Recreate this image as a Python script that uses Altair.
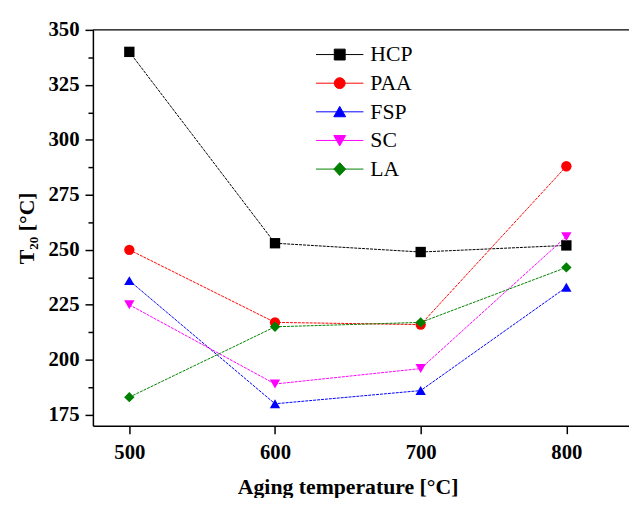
import altair as alt
import pandas as pd

temps = [500, 600, 700, 800]
series_names = ["HCP", "PAA", "FSP", "SC", "LA"]
hcp = [340, 253, 249, 252]
paa = [250, 217, 216, 288]
fsp = [236, 180, 186, 233]
sc = [225, 189, 196, 256]
la = [183, 215, 217, 242]
colors = ["#000000", "#ff0000", "#0000ff", "#ff00ff", "#008000"]
shapes = ["square", "circle", "triangle-up", "triangle-down", "diamond"]
legend_paths = [
    "M-4.8,0H4.8M-1.1,-1.1H1.1V1.1H-1.1Z",
    "M-4.8,0H4.8M1.1,0A1.1,1.1,0,1,1,-1.1,0A1.1,1.1,0,1,1,1.1,0Z",
    "M-4.8,0H4.8M0,-1.1L1.2,1L-1.2,1Z",
    "M-4.8,0H4.8M0,1.1L1.2,-1L-1.2,-1Z",
    "M-4.8,0H4.8M0,-1.3L1.2,0L0,1.3L-1.2,0Z",
]
x_domain = [475, 843]
y_domain = [170, 350]

rows = []
for name, vals in zip(series_names, [hcp, paa, fsp, sc, la]):
    for t, v in zip(temps, vals):
        rows.append({"temp": t, "T20": v, "series": name})
df = pd.DataFrame(rows)

font = "Liberation Serif"
x_scale = alt.Scale(domain=x_domain, nice=False, zero=False)
y_scale = alt.Scale(domain=y_domain, nice=False, zero=False)

x_axis = alt.Axis(values=temps, title="Aging temperature [°C]", format="d",
                  labelFont=font, titleFont=font,
                  labelFontSize=21, labelFontWeight="bold", titleFontSize=22,
                  titleFontWeight="bold", tickSize=8, labelPadding=8, titlePadding=15,
                  titleX=258, grid=False)
y_ticks = [175 + 12.5 * i for i in range(15)]
y_axis = alt.Axis(values=y_ticks, title="T₂₀ [°C]",
                  labelExpr="datum.value % 25 == 0 ? datum.label : ''",
                  labelFont=font, titleFont=font,
                  labelFontSize=21, labelFontWeight="bold", titleFontSize=22,
                  titleFontWeight="bold",
                  tickSize={"condition": {"test": "datum.value % 25 != 0", "value": 5}, "value": 8},
                  grid=False, labelPadding=6, titlePadding=10)

x = alt.X("temp:Q", scale=x_scale, axis=x_axis)
y = alt.Y("T20:Q", scale=y_scale, axis=y_axis)

series_layers = []
for name, col in zip(series_names, colors):
    sub = alt.Chart(df).transform_filter(alt.datum.series == name)
    series_layers.append(
        sub.mark_line(strokeWidth=1, strokeDash=[3, 1], color=col).encode(x=x, y=y)
    )
for name, col, shp in zip(series_names, colors, shapes):
    sub = alt.Chart(df).transform_filter(alt.datum.series == name)
    series_layers.append(
        sub.mark_point(filled=True, size=110, opacity=1, shape=shp, color=col).encode(x=x, y=y)
    )

# top frame line of the plot box
frame_top = alt.Chart(pd.DataFrame({"k": [0]})).mark_rule(color="black", strokeWidth=1.5).encode(
    x=alt.XDatum(x_domain[0], type="quantitative", scale=x_scale, axis=x_axis),
    x2=alt.X2Datum(x_domain[1]),
    y=alt.YDatum(y_domain[1], type="quantitative", scale=y_scale, axis=y_axis),
)

leg = alt.Legend(title=None, orient="none", legendX=239, legendY=14, labelFont=font,
                 labelFontSize=22, labelOffset=20, symbolSize=100, symbolStrokeWidth=1,
                 rowPadding=7, padding=0, symbolOpacity=1, labelColor="black")

legend_layer = alt.Chart(df).mark_point(filled=True, size=100, opacity=0, strokeWidth=1).encode(
    x=x, y=y,
    fill=alt.Fill("series:N", scale=alt.Scale(domain=series_names, range=colors), legend=leg),
    stroke=alt.Stroke("series:N", scale=alt.Scale(domain=series_names, range=colors), legend=leg),
    shape=alt.Shape("series:N", scale=alt.Scale(domain=series_names, range=legend_paths), legend=leg),
)

chart = alt.layer(*series_layers, frame_top, legend_layer).properties(
    width=543, height=401,
    autosize=alt.AutoSizeParams(type="none"),
    padding={"left": 86, "top": 19, "right": 0, "bottom": 70},
    background="white",
).configure_view(stroke=None).configure_axis(
    domainColor="black", domainWidth=1.5, tickColor="black", tickWidth=1.5,
    labelColor="black", titleColor="black", labelFont=font, titleFont=font,
)

chart.save("out.html", embed_options={"renderer": "svg", "actions": False})
